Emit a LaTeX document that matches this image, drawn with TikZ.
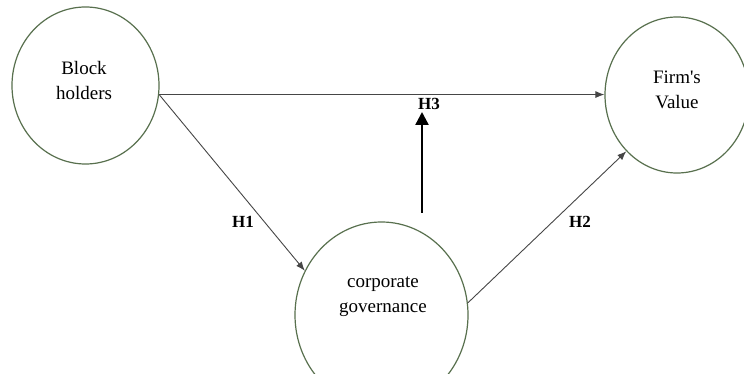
\documentclass[tikz,border=0pt]{standalone}
\usepackage{fontspec}
\setmainfont{Liberation Serif}
\usetikzlibrary{shapes.geometric,arrows.meta}
\definecolor{ringcol}{RGB}{88,112,78}
\definecolor{linecol}{RGB}{70,70,70}
\begin{document}
\begin{tikzpicture}[x=1pt,y=-1pt,
  ring/.style={draw=ringcol,line width=1.2pt,ellipse,inner sep=0pt},
  nodetext/.style={font=\fontsize{19}{25}\selectfont,align=center,text=black},
  hlabel/.style={font=\fontsize{17}{20}\selectfont\bfseries,text=black},
  thinarrow/.style={draw=linecol,line width=0.9pt,-{Latex[length=9pt,width=7pt]}},
  thickarrow/.style={draw=black,line width=2.4pt,-{Triangle[length=13pt,width=13pt]}}]
\clip (0,0) rectangle (744,374);
\fill[white] (0,0) rectangle (744,374);
% ellipses
\node[ring,minimum width=147pt,minimum height=157pt] (bh) at (85.5,85.5) {};
\node[ring,minimum width=144pt,minimum height=156pt] (fv) at (677,95) {};
\node[ring,minimum width=173pt,minimum height=186pt] (cg) at (381.5,315) {};
% texts
\node[nodetext] (bht) at (84,81) {Block\\holders};
\node[nodetext] (fvt) at (677,90) {Firm\textquotesingle s\\Value};
\node[nodetext] (cgt) at (383,297) {corporate\\governance};
% connectors
\draw[thinarrow] (bh.-7) -- (fv.west |- bh.-7);
\draw[thinarrow] (bh.-7) -- (cg.150.5);
\draw[thinarrow] (cg.8.5) -- (fv.228.7);
\coordinate (h3b) at (422,213);
\coordinate (h3t) at (422,112);
\draw[thickarrow] (h3b) -- (h3t);
% labels
\node[hlabel] (h1) at (243,222) {H1};
\node[hlabel] (h2) at (580,222) {H2};
\node[hlabel] (h3) at (429,104) {H3};
\end{tikzpicture}
\end{document}
